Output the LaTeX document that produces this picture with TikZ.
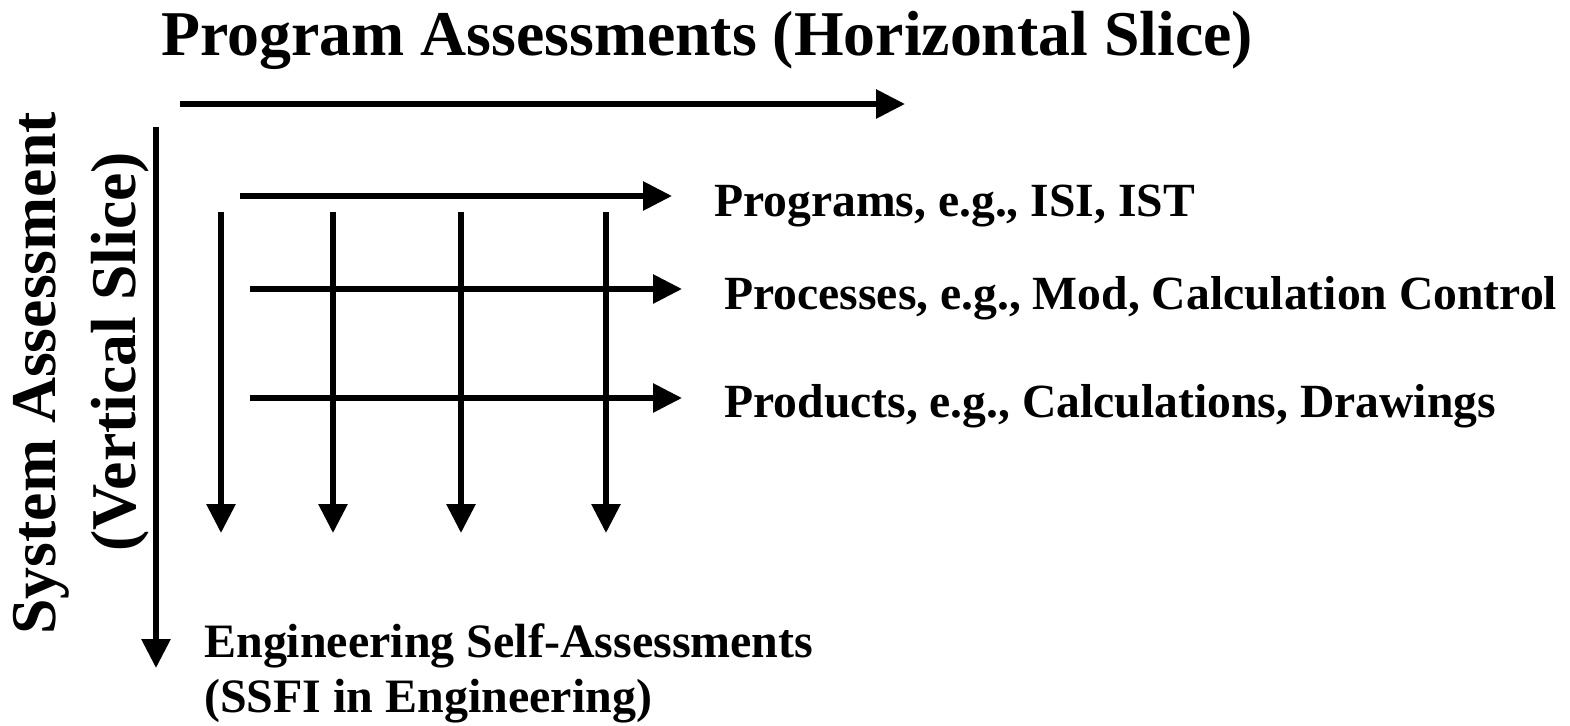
\documentclass[tikz,border=0pt]{standalone}
\usepackage{fontspec}
\setmainfont{Liberation Serif}
\usetikzlibrary{arrows.meta}
\begin{document}
\begin{tikzpicture}[x=0.02cm, y=-0.02cm,
        arr/.style={line width=3.2pt, -{Triangle[length=16.5pt,width=16pt]}},
        big/.style={font=\fontsize{36.3}{44}\selectfont\bfseries, inner sep=0pt, anchor=base west},
        lbl/.style={font=\fontsize{27.1}{33}\selectfont\bfseries, inner sep=0pt, anchor=base west}]
    \useasboundingbox (0,0) rectangle (1570,726);

    % headings
    \node[big] (horiz) at (161,56) {Program Assessments (Horizontal Slice)};
    \node[big, rotate=90] (sys) at (55,635) {System Assessment};
    \node[big, rotate=90] (vert) at (135,552) {(Vertical Slice)};

    % main axes
    \coordinate (hs) at (180,104);
    \coordinate (he) at (905,104);
    \coordinate (vs) at (156,127);
    \coordinate (ve) at (156,668);
    \draw[arr] (hs) -- (he);
    \draw[arr] (vs) -- (ve);

    % rows
    \node[lbl] (prog) at (714,217) {Programs, e.g., ISI, IST};
    \node[lbl] (proc) at (724,310) {Processes, e.g., Mod, Calculation Control};
    \node[lbl] (prod) at (724,418) {Products, e.g., Calculations, Drawings};
    \coordinate (prog-s) at (240,196);
    \coordinate (prog-e) at (672,196);
    \coordinate (proc-s) at (250,289);
    \coordinate (proc-e) at (682,289);
    \coordinate (prod-s) at (250,398);
    \coordinate (prod-e) at (682,398);
    \foreach \r in {prog,proc,prod} {
        \draw[arr] (\r-s) -- (\r-e);
    }

    % columns
    \foreach \x [count=\i] in {221,333,461,606} {
        \coordinate (col\i-s) at (\x,212);
        \coordinate (col\i-e) at (\x,533);
        \draw[arr] (col\i-s) -- (col\i-e);
    }

    % bottom label
    \node[lbl, font=\fontsize{27.3}{33}\selectfont\bfseries] (ese) at (204,657) {Engineering Self-Assessments};
    \node[lbl, font=\fontsize{27.3}{33}\selectfont\bfseries] (ssfi) at (204,712) {(SSFI in Engineering)};
\end{tikzpicture}
\end{document}
